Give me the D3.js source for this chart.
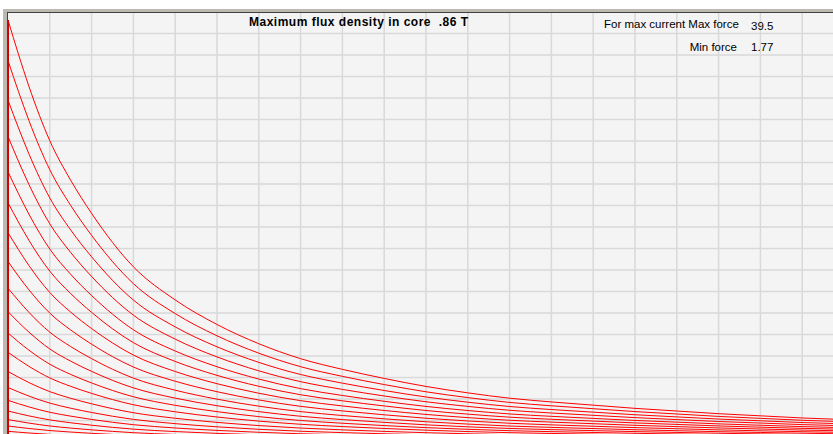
<!DOCTYPE html>
<html>
<head>
<meta charset="utf-8">
<script src="https://cdn.jsdelivr.net/npm/d3@7"></script>
<style>
  body { margin: 0; background: #fff; }
  svg { display: block; }
  text { font-family: "Liberation Sans", Arial, sans-serif; fill: #000; }
</style>
</head>
<body>
<script>
// distance along gap, in grid units (0..20)
var distance = [0, 0.25, 0.5, 1, 1.5, 2, 3, 4, 5, 6, 7, 8, 9, 10, 11, 12, 13, 14, 15, 16, 17, 18, 19, 20];
// force curve for max current
var maxCurrentForce = [39.5, 36.3, 33.3, 28.2, 24.5, 21.4, 16.4, 13.3, 11.0, 9.2, 7.8, 6.8, 5.95, 5.2, 4.6, 4.1, 3.75, 3.45, 3.15, 2.9, 2.65, 2.45, 2.25, 2.1];
// force at zero distance for each current step (top to bottom)
var startForce = [39.5, 35.7, 32.0, 28.6, 25.3, 22.4, 19.6, 16.9, 14.4, 12.2, 10.2, 8.4, 6.6, 5.1, 3.9, 2.9, 2.1, 1.5, 1.0, 0.5];
var gridSteps = d3.range(1, 20);

var titleText = 'Maximum flux density in core  .86 T';
var maxLabel = 'For max current Max force', maxValue = '39.5';
var minLabel = 'Min force', minValue = '1.77';

var drawChart = () => {
  const w = 833, h = 434;
  const left = 8, top = 13, right = 844, bottom = 442;

  var svg = d3.select('body')
    .append('svg')
    .attr('width', w)
    .attr('height', h);

  svg.append('rect').attr('width', w).attr('height', h).attr('fill', '#fff');

  // sunken frame
  svg.append('rect')
    .attr('x', 3).attr('y', 9)
    .attr('width', 900).attr('height', 500)
    .attr('fill', '#bdb9b1');
  svg.append('rect')
    .attr('x', 7).attr('y', 12)
    .attr('width', 900).attr('height', 500)
    .attr('fill', '#404040');
  svg.append('rect')
    .attr('x', left).attr('y', top)
    .attr('width', right - left).attr('height', bottom - top)
    .attr('fill', '#f4f4f4');

  svg.append('clipPath').attr('id', 'plot')
    .append('rect')
    .attr('x', left).attr('y', top)
    .attr('width', right - left).attr('height', bottom - top);

  var x = d3.scaleLinear().domain([0, 20]).range([left, right]);
  var gy = d3.scaleLinear().domain([0, 20]).range([bottom, top - 1]);
  var y = d3.scaleLinear().domain([0, 40.25]).range([bottom, top - 1]);

  var grid = svg.append('g').attr('clip-path', 'url(#plot)');
  grid.selectAll('.vgrid')
    .data(gridSteps)
    .enter()
    .append('line')
    .attr('x1', d => x(d)).attr('x2', d => x(d))
    .attr('y1', top).attr('y2', bottom)
    .attr('stroke', '#d9d9d9')
    .attr('stroke-width', 1.5);
  grid.selectAll('.hgrid')
    .data(gridSteps)
    .enter()
    .append('line')
    .attr('y1', d => gy(d)).attr('y2', d => gy(d))
    .attr('x1', left).attr('x2', right)
    .attr('stroke', '#d9d9d9')
    .attr('stroke-width', 1.5);

  var series = startForce.map(s => distance.map((d, i) => ({d: d, f: maxCurrentForce[i] * s / startForce[0]})));

  var line = d3.line()
    .x(p => x(p.d))
    .y(p => y(p.f))
    .curve(d3.curveMonotoneX);

  var curves = svg.append('g').attr('clip-path', 'url(#plot)');
  curves.selectAll('path')
    .data(series)
    .enter()
    .append('path')
    .attr('d', line)
    .attr('fill', 'none')
    .attr('stroke', '#ff0000')
    .attr('stroke-width', 1);

  // left edge line
  svg.append('line')
    .attr('x1', left + 0.5).attr('x2', left + 0.5)
    .attr('y1', y(startForce[0])).attr('y2', bottom)
    .attr('stroke', '#d00000')
    .attr('stroke-width', 1);

  svg.append('text')
    .attr('x', 249).attr('y', 26)
    .attr('textLength', 219)
    .attr('lengthAdjust', 'spacing')
    .style('font-size', '12px')
    .style('font-weight', 'bold')
    .style('white-space', 'pre')
    .text(titleText);

  svg.append('text')
    .attr('x', 604).attr('y', 28)
    .style('font-size', '11.5px')
    .text(maxLabel);
  svg.append('text')
    .attr('x', 751).attr('y', 30)
    .style('font-size', '11.5px')
    .text(maxValue);
  svg.append('text')
    .attr('x', 737).attr('y', 51)
    .attr('text-anchor', 'end')
    .style('font-size', '11.5px')
    .text(minLabel);
  svg.append('text')
    .attr('x', 751).attr('y', 51)
    .style('font-size', '11.5px')
    .text(minValue);
}

drawChart();
</script>
</body>
</html>
